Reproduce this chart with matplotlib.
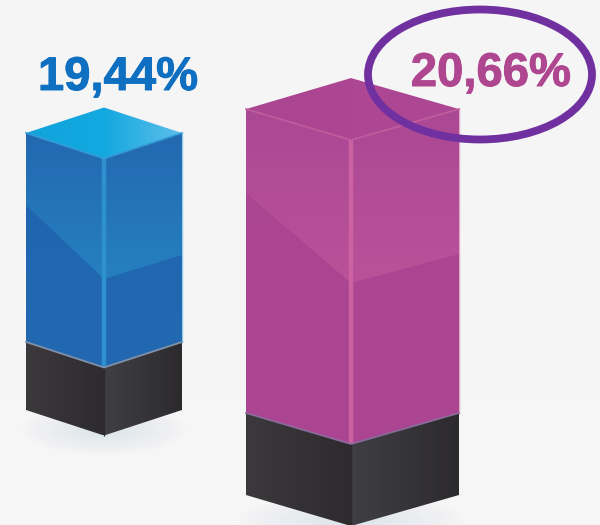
import numpy as np
import matplotlib
matplotlib.use("Agg")
import matplotlib.pyplot as plt
import matplotlib.patheffects as pe
from matplotlib.patches import Polygon, Ellipse
from matplotlib.colors import LinearSegmentedColormap

# data
labels = ["19,44%", "20,66%"]
values = [19.44, 20.66]

# layout in figure pixels, one entry per bar
lefts = [26, 246]
mids = [104, 351]
rights = [182, 459]
depths = [25.5, 31]
bases = [410, 495]
px_per_unit = [14.25, 18.68]
plinths = [68, 82]
folds_left = [72, 84]
folds_right = [122, 145]
folds_mid = [146, 174]
label_xy = [(118, 78), (491, 74)]

# style
top_cols = [["#12a3dc", "#12a8e0", "#5fbfe9"], ["#aa4591", "#ad4693", "#ad4693"]]
dark_cols = [["#2064ae", "#2269b2"], ["#aa4591", "#ad4692"]]
light_cols = [["#2268b0", "#2680c0"], ["#ab4894", "#ba5299"]]
edge_cols = ["#2f90d0", "#cc62a2"]
text_cols = ["#0f6fc1", "#ae4690"]
rim_cols = ["#33a0dc", "#c25ea0"]
seam_cols = ["#8090a8", "#8a6a9a"]
BG = "#f5f5f5"

fig = plt.figure(figsize=(6, 5.25), dpi=100, facecolor=BG)
ax = fig.add_axes([0, 0, 1, 1])
ax.set_xlim(0, 600)
ax.set_ylim(525, 0)
ax.axis("off")
ax.set_aspect("auto")
ax.fill_between([0, 600], 394, 525, color="#f6f6f6", lw=0, zorder=0)


def grad(pts, cols, vertical=False, z=2):
    pts = np.array(pts, float)
    x0, y0 = pts.min(axis=0)
    x1, y1 = pts.max(axis=0)
    cmap = LinearSegmentedColormap.from_list("g", cols)
    g = np.linspace(0, 1, 256)
    g = g[:, None] if vertical else g[None, :]
    im = ax.imshow(g, extent=(x0, x1, y1, y0), cmap=cmap, aspect="auto", zorder=z,
                   interpolation="bilinear")
    clip = Polygon(pts, closed=True, transform=ax.transData, fc="none", ec="none")
    ax.add_patch(clip)
    im.set_clip_path(clip)


def shadow(cx, cy, w, h):
    for i in range(14):
        f = 1 - i / 14
        ax.add_patch(Ellipse((cx, cy), w * f, h * f, fc="#c8dae0", ec="none", alpha=0.045, zorder=1))


for i, v in enumerate(values):
    L, M, R, d, base = lefts[i], mids[i], rights[i], depths[i], bases[i]
    top = base - v * px_per_unit[i]
    seam = base - plinths[i]
    fl, fr, fm = top + folds_left[i], top + folds_right[i], top + folds_mid[i]
    shadow(M, base + d - 6, 1.05 * (R - L), 50)
    # top face
    grad([(L, top), (M, top - d), (R, top), (M, top + d)], top_cols[i])
    # side faces
    grad([(L, top), (M, top + d), (M, seam + d), (L, seam)], dark_cols[i], vertical=True)
    grad([(M, top + d), (R, top), (R, seam), (M, seam + d)], dark_cols[i], vertical=True)
    # lighter upper facet
    grad([(L, top), (M, top + d), (M, fm), (L, fl)], light_cols[i], vertical=True, z=3)
    grad([(M, top + d), (R, top), (R, fr), (M, fm)], light_cols[i], vertical=True, z=3)
    # plinth
    grad([(L, seam), (M, seam + d), (M, base + d), (L, base)], ["#3c393d", "#2d2b2e"], z=3)
    grad([(M, seam + d), (R, seam), (R, base), (M, base + d)], ["#403f44", "#2c2a2d"], z=3)
    ax.plot([M, M], [seam + d, base + d], color="#2d2b2e", lw=1.0, zorder=4, solid_capstyle="butt")
    # edges
    ax.plot([M, M], [top + d, seam + d], color=edge_cols[i], lw=3.2, zorder=4, solid_capstyle="butt")
    ax.plot([L, M, R], [top, top + d, top], color=rim_cols[i], lw=1.4, zorder=4, alpha=0.8)
    ax.plot([L, M, R], [seam, seam + d, seam], color=seam_cols[i], lw=1.3, zorder=4)
    ax.plot([R, R], [top, seam], color=rim_cols[i], lw=1, zorder=4, alpha=0.5)
    ax.text(label_xy[i][0], label_xy[i][1], labels[i], color=text_cols[i], fontsize=34,
            fontweight="bold", family="Liberation Sans", ha="center", va="center", zorder=6,
            path_effects=[pe.withStroke(linewidth=0.7, foreground=text_cols[i])])

# highlight ring around the second label
ax.add_patch(Ellipse((480, 74.5), 224, 130, fc="none", ec="#7030a0", lw=5.6, zorder=5))

fig.savefig("out.png", dpi=100, facecolor=BG)
